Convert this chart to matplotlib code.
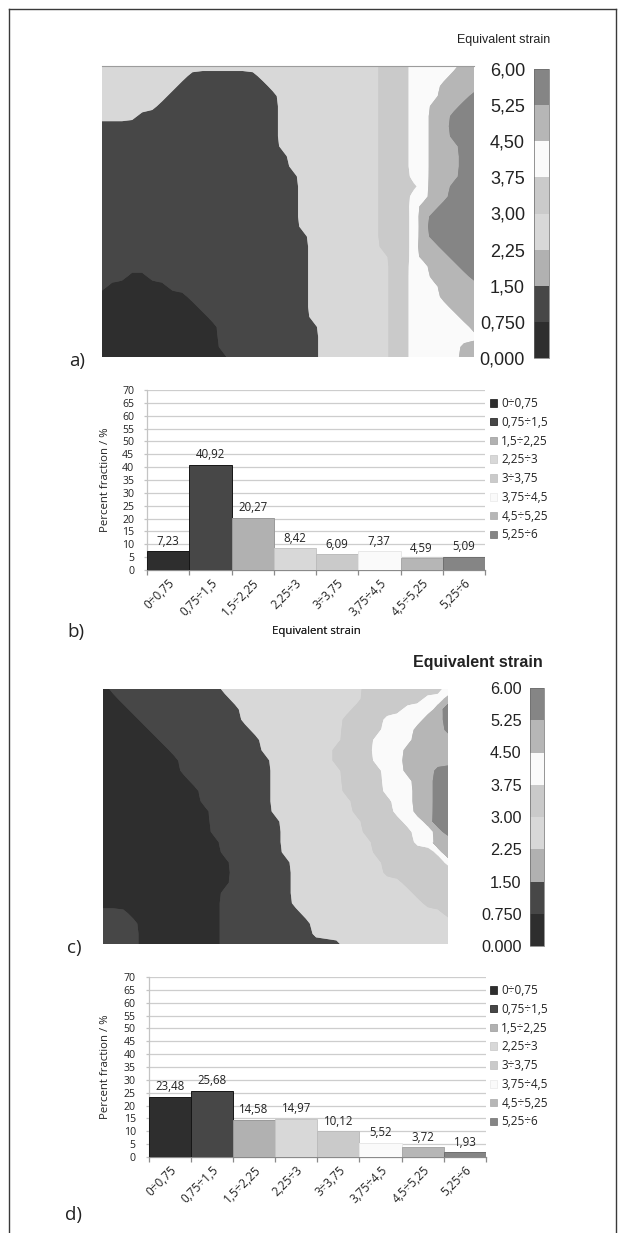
import numpy as np
import matplotlib
matplotlib.use("Agg")
import matplotlib.pyplot as plt
from matplotlib import font_manager as fm
from matplotlib.colors import ListedColormap, BoundaryNorm
from matplotlib.cm import ScalarMappable
from matplotlib.patches import Patch
from matplotlib.lines import Line2D

# ------------------------------------------------------------------ data
STRAIN_LEVELS = [0.0, 0.75, 1.5, 2.25, 3.0, 3.75, 4.5, 5.25, 6.0]
CBAR_LABELS_A = ["0,000", "0,750", "1,50", "2,25", "3,00", "3,75", "4,50", "5,25", "6,00"]
CBAR_LABELS_C = ["0.000", "0.750", "1.50", "2.25", "3.00", "3.75", "4.50", "5.25", "6.00"]
STRAIN_CLASSES = ["0÷0,75", "0,75÷1,5", "1,5÷2,25", "2,25÷3",
                  "3÷3,75", "3,75÷4,5", "4,5÷5,25", "5,25÷6"]
FRACTION_B = [7.23, 40.92, 20.27, 8.42, 6.09, 7.37, 4.59, 5.09]
FRACTION_D = [23.48, 25.68, 14.58, 14.97, 10.12, 5.52, 3.72, 1.93]

# strain band index (0..7) sampled on a regular node grid of each map,
# row by row from the top, run-length coded as "band*count"
MAP_A_BANDS = [
    "3*28 4*3 5*5 6*2",
    "3*9 1*7 3*12 4*3 5*4 6*3",
    "3*8 1*9 3*11 4*3 5*3 6*4",
    "3*7 1*11 3*10 4*3 5*3 6*3 7*1",
    "3*6 1*12 3*10 4*3 5*2 6*3 7*2",
    "3*4 1*14 3*10 4*3 5*2 6*2 7*3",
    "1*18 3*10 4*3 5*2 6*2 7*3",
    "1*18 3*10 4*3 5*2 6*2 7*3",
    "1*18 3*10 4*3 5*2 6*3 7*2",
    "1*19 3*9 4*3 5*2 6*3 7*2",
    "1*19 3*9 4*3 5*2 6*3 7*2",
    "1*20 3*8 4*3 5*2 6*3 7*2",
    "1*20 3*8 4*4 5*1 6*2 7*3",
    "1*20 3*8 4*3 5*2 6*2 7*3",
    "1*20 3*8 4*3 5*1 6*2 7*4",
    "1*20 3*8 4*3 5*1 6*1 7*5",
    "1*20 3*8 4*3 5*1 6*1 7*5",
    "1*21 3*7 4*3 5*1 6*1 7*5",
    "1*21 3*7 4*3 5*1 6*2 7*4",
    "1*21 3*8 4*2 5*1 6*3 7*3",
    "1*21 3*8 4*2 5*2 6*3 7*2",
    "1*3 0*2 1*16 3*8 4*2 5*2 6*4 7*1",
    "1*1 0*6 1*14 3*8 4*2 5*3 6*4",
    "0*9 1*12 3*8 4*2 5*3 6*4",
    "0*10 1*11 3*8 4*2 5*4 6*3",
    "0*11 1*10 3*8 4*2 5*5 6*2",
    "0*12 1*10 3*7 4*2 5*6 6*1",
    "0*12 1*10 3*7 4*2 5*7",
    "0*12 1*10 3*7 4*2 5*5 6*2",
    "0*13 1*9 3*7 4*2 5*5 6*2",
]
MAP_C_BANDS = [
    "0*1 1*11 3*14 4*8 5*1",
    "0*2 1*11 3*13 4*6 5*2 6*1",
    "0*3 1*11 3*11 4*5 5*3 6*1 7*1",
    "0*4 1*10 3*10 4*4 5*4 6*2 7*1",
    "0*5 1*10 3*9 4*4 5*3 6*3 7*1",
    "0*6 1*10 3*8 4*3 5*4 6*4",
    "0*7 1*9 3*7 4*4 5*3 6*5",
    "0*8 1*9 3*6 4*4 5*3 6*5",
    "0*8 1*9 3*7 4*4 5*2 6*3 7*2",
    "0*9 1*8 3*7 4*4 5*3 6*2 7*2",
    "0*10 1*7 3*7 4*4 5*3 6*2 7*2",
    "0*10 1*7 3*8 4*4 5*2 6*2 7*2",
    "0*11 1*6 3*8 4*4 5*2 6*2 7*2",
    "0*11 1*7 3*8 4*4 5*2 6*1 7*2",
    "0*11 1*7 3*8 4*5 5*2 6*1 7*1",
    "0*12 1*6 3*9 4*4 5*2 6*2",
    "0*12 1*6 3*9 4*6 5*1 6*1",
    "0*13 1*6 3*9 4*6 5*1",
    "0*13 1*6 3*9 4*7",
    "0*13 1*6 3*11 4*5",
    "0*12 1*7 3*12 4*4",
    "0*12 1*7 3*13 4*3",
    "1*3 0*9 1*8 3*14 4*1",
    "1*4 0*8 1*9 3*14",
    "1*4 0*8 1*9 3*14",
    "1*4 0*8 1*12 3*11",
]

# ------------------------------------------------------------------ styles
BAND_COLORS = ["#2e2e2e", "#474747", "#b1b1b1", "#d8d8d8",
               "#cacaca", "#fafafa", "#b6b6b6", "#858585"]
BAR_EDGES = ["#161616", "#161616", "#9a9a9a", "#c6c6c6",
             "#bcbcbc", "#e8e8e8", "#a8a8a8", "#6e6e6e"]
TEXT = "#222222"
BAR_FONT = ["Open Sans", "DejaVu Sans"]
MAP_FONT = ["Liberation Sans", "DejaVu Sans"]


def first_font(*names):
    for n in names:
        try:
            fm.findfont(fm.FontProperties(family=n), fallback_to_default=False)
            return n
        except Exception:
            pass
    return None


NARROW = first_font("Liberation Sans Narrow", "Arial Narrow")
TITLE_A_FONT = [NARROW or "Liberation Sans", "DejaVu Sans"]
TITLE_A_SIZE = 10.5 if NARROW else 9.0

W, H, DPI = 625, 1233, 100


def rect(x0, y0, x1, y1):
    return [x0 / W, 1 - y1 / H, (x1 - x0) / W, (y1 - y0) / H]


def fx(x):
    return x / W


def fy(y):
    return 1 - y / H


def decode(rows):
    out = []
    for r in rows:
        vals = []
        for tok in r.split():
            band, count = tok.split("*")
            vals += [int(band)] * int(count)
        out.append(vals)
    return np.array(out)


def soften(a):
    """light [1,4,1]/6 smoothing of a band-membership map (edge rounding only)"""
    k = np.array([1.0, 4.0, 1.0]) / 6.0
    p = np.pad(a, 1, mode="edge")
    a = k[0] * p[:-2, 1:-1] + k[1] * p[1:-1, 1:-1] + k[2] * p[2:, 1:-1]
    p = np.pad(a, 1, mode="edge")
    return k[0] * p[1:-1, :-2] + k[1] * p[1:-1, 1:-1] + k[2] * p[1:-1, 2:]


levels = np.array(STRAIN_LEVELS)
mids = (levels[:-1] + levels[1:]) / 2
cmap = ListedColormap(BAND_COLORS)
norm = BoundaryNorm(levels, cmap.N)

fig = plt.figure(figsize=(W / DPI, H / DPI), dpi=DPI)
fig.patch.set_facecolor("white")


def draw_map(box, rows, top_edge=False):
    ax = fig.add_axes(rect(*box))
    idx = decode(rows)
    ny, nx = idx.shape
    xs, ys = np.arange(nx), np.arange(ny)
    # strain field at the nodes (band mid values) as the underlying layer
    ax.contourf(xs, ys, mids[idx], levels=levels, colors=BAND_COLORS)
    # each band drawn where it dominates its neighbours -> no spurious bands
    memb = np.stack([soften((idx == k).astype(float)) for k in range(len(BAND_COLORS))])
    for k, col in enumerate(BAND_COLORS):
        if not (idx == k).any():
            continue
        others = np.delete(memb, k, axis=0).max(axis=0)
        ax.contourf(xs, ys, memb[k] - others, levels=[0.0, 2.0], colors=[col],
                    antialiased=True)
    ax.set_xlim(0, nx - 1)
    ax.set_ylim(ny - 1, 0)
    ax.set_xticks([])
    ax.set_yticks([])
    for s in ax.spines.values():
        s.set_visible(False)
    if top_edge:
        ax.spines["top"].set_visible(True)
        ax.spines["top"].set_color("#9c9c9c")
        ax.spines["top"].set_linewidth(0.8)
    return ax


def draw_cbar(box, labels, size, pad):
    cax = fig.add_axes(rect(*box))
    cb = fig.colorbar(ScalarMappable(norm=norm, cmap=cmap), cax=cax, ticks=levels)
    cb.ax.yaxis.set_ticks_position("left")
    cb.set_ticklabels(labels)
    cb.ax.tick_params(length=0, pad=pad, labelsize=size, labelcolor=TEXT)
    for t in cb.ax.get_yticklabels():
        t.set_family(MAP_FONT)
    cb.outline.set_linewidth(0.5)
    cb.outline.set_edgecolor("#6a6a6a")
    return cb


def draw_bars(box, values, legend_top):
    ax = fig.add_axes(rect(*box))
    x = np.arange(len(values))
    ax.bar(x, values, width=1.0, color=BAND_COLORS, edgecolor=BAR_EDGES,
           linewidth=0.7, zorder=3)
    for xi, v in zip(x, values):
        ax.annotate(f"{v:.2f}".replace(".", ","), (xi, v), xytext=(0, 2.5),
                    textcoords="offset points", ha="center", va="bottom",
                    fontsize=8.3, family=BAR_FONT, color=TEXT)
    ax.set_xlim(-0.5, len(values) - 0.5)
    ax.set_ylim(0, 70)
    ax.set_yticks(np.arange(0, 71, 5))
    ax.yaxis.grid(True, color="#cdcdcd", linewidth=0.9, zorder=0)
    ax.set_axisbelow(True)
    for s in ("top", "right"):
        ax.spines[s].set_visible(False)
    ax.spines["left"].set_color("#c4c4c4")
    ax.spines["left"].set_linewidth(0.9)
    ax.spines["bottom"].set_color("#8a8a8a")
    ax.spines["bottom"].set_linewidth(0.9)
    ax.tick_params(axis="y", length=2.2, width=0.9, color="#c4c4c4", pad=7,
                   labelsize=7.6, labelcolor=TEXT)
    for t in ax.get_yticklabels():
        t.set_family(BAR_FONT)
    ax.set_xticks(x)
    ax.set_xticklabels(STRAIN_CLASSES, rotation=45, ha="right", va="top",
                       rotation_mode="anchor", fontsize=8.5, family=BAR_FONT, color=TEXT)
    ax.tick_params(axis="x", which="major", length=0, pad=5)
    ax.set_xticks(np.arange(-0.5, len(values), 1.0), minor=True)
    ax.tick_params(axis="x", which="minor", length=3.5, width=0.9, color="#8a8a8a")
    ax.set_xlabel("Equivalent strain", fontsize=8.2, family=BAR_FONT, color=TEXT)
    x0, y0, x1, y1 = box
    ax.xaxis.set_label_coords((316 - x0) / (x1 - x0), -(626 - y1) / (y1 - y0))
    ax.set_ylabel("Percent fraction / %", fontsize=8.2, family=BAR_FONT, color=TEXT)
    ax.yaxis.set_label_coords((111 - x0) / (x1 - x0), 0.5)
    handles = [Patch(facecolor=c, edgecolor=e, linewidth=0.5)
               for c, e in zip(BAND_COLORS, BAR_EDGES)]
    fig.legend(handles, STRAIN_CLASSES, loc="upper left",
               bbox_to_anchor=(fx(490), fy(legend_top)), frameon=False,
               prop={"family": BAR_FONT, "size": 8.5}, labelcolor=TEXT,
               handlelength=0.6, handleheight=0.6, handletextpad=0.35,
               labelspacing=0.49, borderpad=0, borderaxespad=0)
    return ax


# panel a
draw_map((102, 66, 474, 357), MAP_A_BANDS, top_edge=True)
draw_cbar((534, 69, 549, 358), CBAR_LABELS_A, 13, 6.5)
fig.text(fx(550), fy(40), "Equivalent strain", ha="right", va="center",
         fontsize=TITLE_A_SIZE, family=TITLE_A_FONT, color=TEXT)

# panel b
draw_bars((147, 390, 485, 570), FRACTION_B, 397)

# panel c
draw_map((103, 689, 448, 944), MAP_C_BANDS)
draw_cbar((530, 688, 544, 946), CBAR_LABELS_C, 11.7, 6)
fig.text(fx(543), fy(662), "Equivalent strain", ha="right", va="center",
         fontsize=11.5, fontweight="bold", family=MAP_FONT, color=TEXT)

# panel d
draw_bars((148.6, 977, 486, 1157), FRACTION_D, 984)

# panel letters
for letter, (px, py) in {"a)": (69, 361), "b)": (67, 632),
                         "c)": (67, 948), "d)": (65, 1215)}.items():
    fig.text(fx(px), fy(py), letter, ha="left", va="center", fontsize=13.5,
             family=BAR_FONT, color=TEXT)

# page frame
for xs_, ys_ in [((9, 9), (9, 1233)), ((9, 616), (9, 9)), ((616, 616), (9, 1233))]:
    fig.add_artist(Line2D([fx(v) for v in xs_], [fy(v) for v in ys_],
                          transform=fig.transFigure, color="#3a3a3a", linewidth=1.0))

fig.savefig("out.png", dpi=DPI, facecolor="white")
